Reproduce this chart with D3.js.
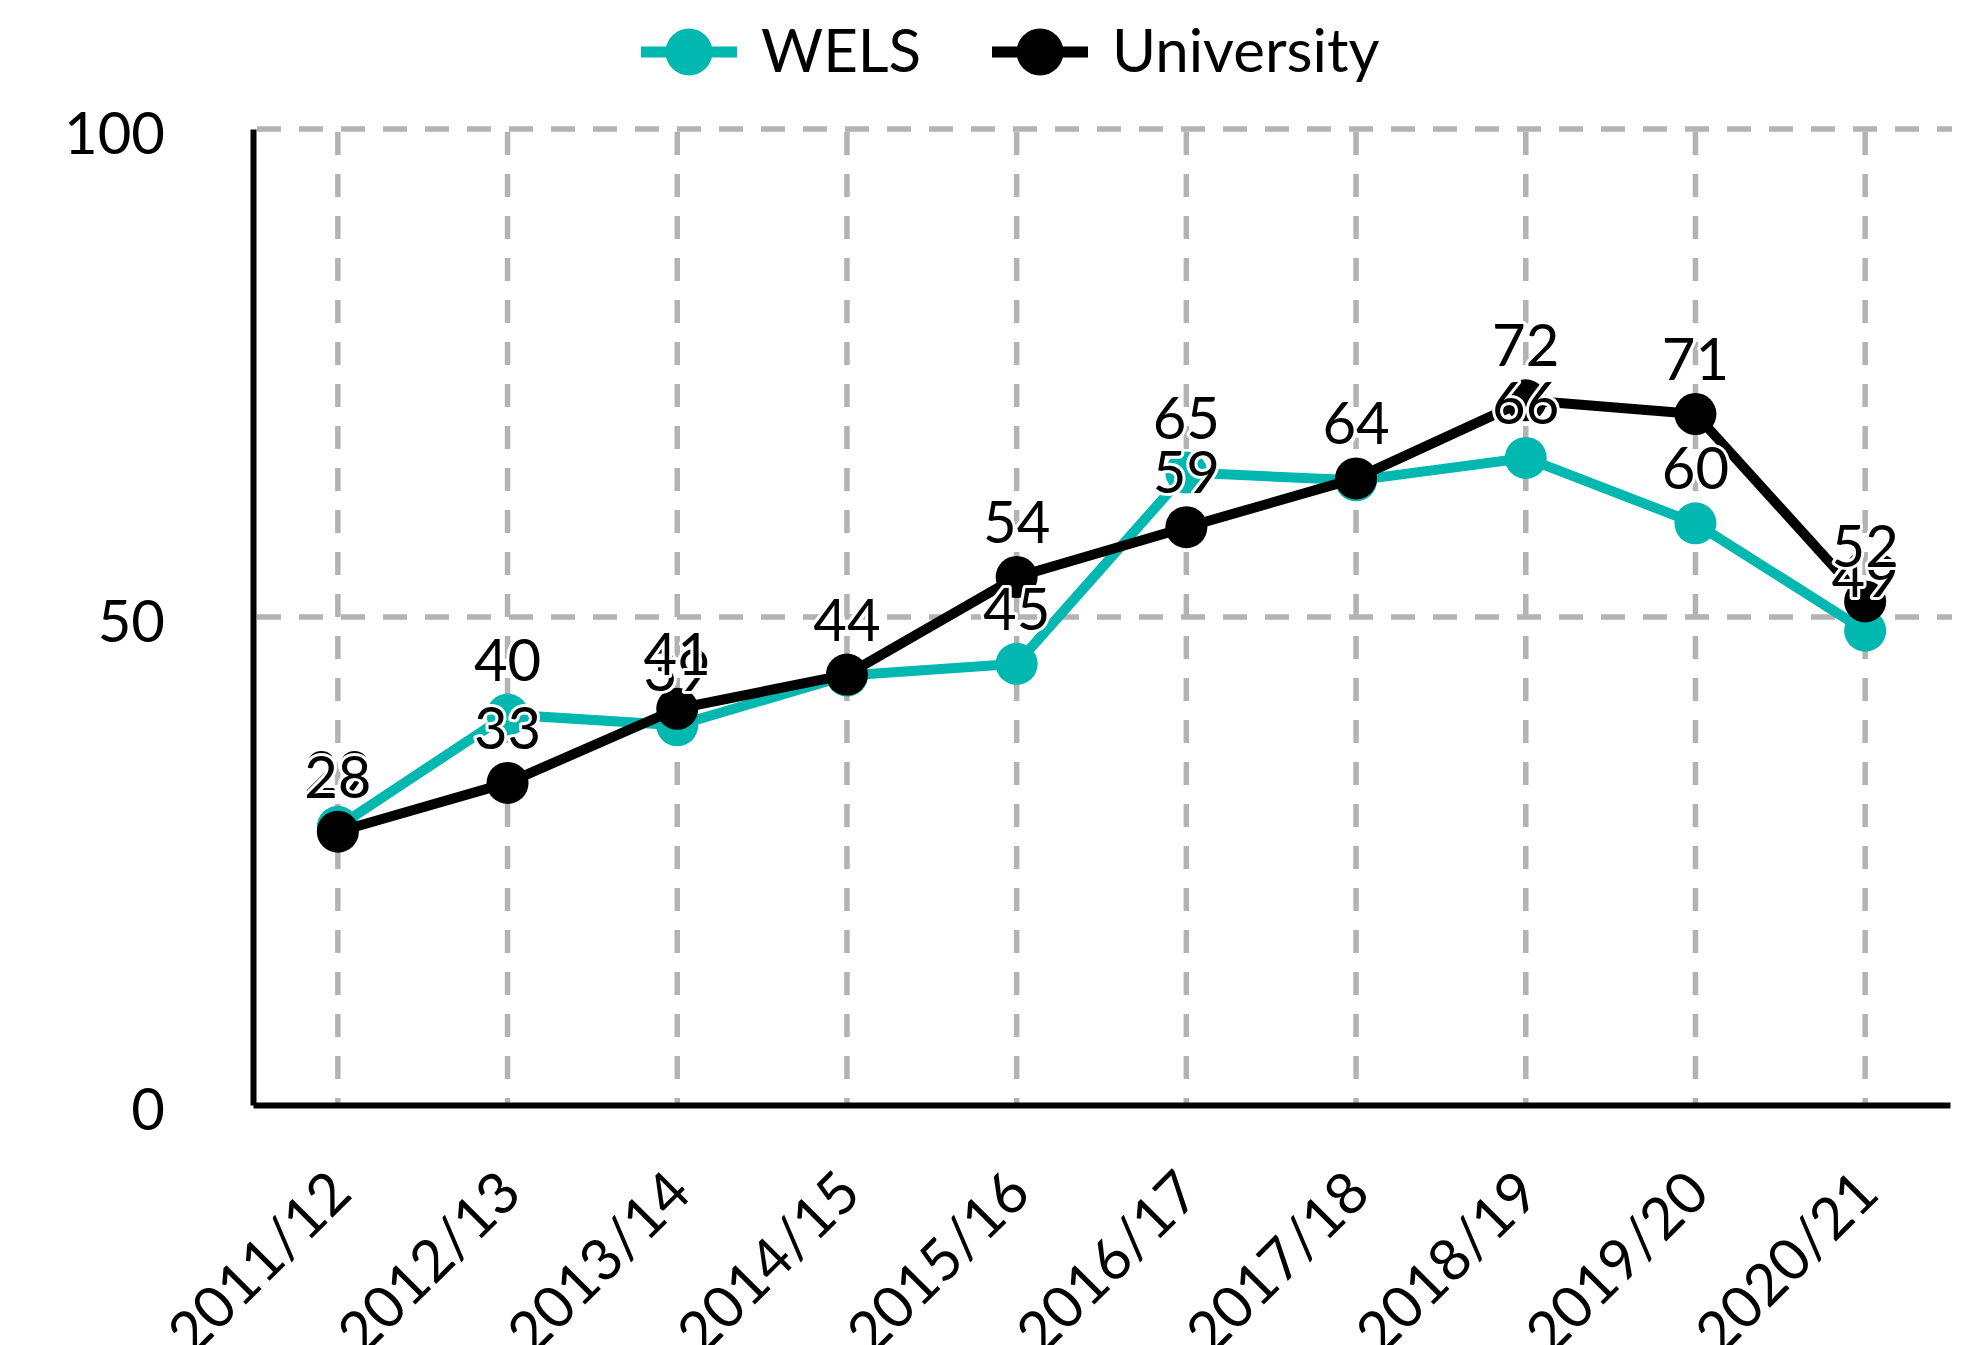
<!DOCTYPE html>
<html>
<head>
  <meta charset="utf-8">
  <script src="https://d3js.org/d3.v7.min.js"></script>
  <style>
    body { margin: 0; background: #fff; }
    text { font-family: Lato, "Open Sans", sans-serif; fill: #000; }
  </style>
</head>
<body>
  <script>
    // Academic years on the x axis
    const years = ["2011/12", "2012/13", "2013/14", "2014/15", "2015/16",
                   "2016/17", "2017/18", "2018/19", "2019/20", "2020/21"];

    // Values
    const wels = [28.5, 40, 38.9, 44, 45.2, 64.8, 64, 66.3, 59.6, 48.6];
    const university = [28, 33, 40.6, 44.1, 54.1, 59.2, 64.2, 72.2, 70.8, 51.6];

    const yTicks = [0, 50, 100];
    const seriesNames = ["WELS", "University"];
    const seriesColors = ["#00b8b0", "#000000"];

    const width = 1981;
    const height = 1345;
    const fontSize = 58;

    const series = [wels, university].map((vals, i) => ({
      name: seriesNames[i],
      color: seriesColors[i],
      values: vals.map((v, j) => ({ year: years[j], value: v }))
    }));

    const svg = d3.select("body")
      .append("svg")
      .attr("width", width)
      .attr("height", height);

    const x = d3.scalePoint()
      .domain(years)
      .range([253, 1950])
      .padding(0.5);

    const y = d3.scaleLinear()
      .domain([0, 100])
      .range([1105, 129]);

    // Dashed gridlines
    const grid = svg.append("g")
      .attr("stroke", "#b3b3b3")
      .attr("stroke-width", 5.5);

    grid.selectAll(".hgrid")
      .data(yTicks.filter(d => d > 0))
      .join("line")
      .attr("class", "hgrid")
      .attr("x1", x.range()[0] + 4)
      .attr("x2", x.range()[1] + 2)
      .attr("y1", d => y(d))
      .attr("y2", d => y(d))
      .attr("stroke-dasharray", "24,18");

    grid.selectAll(".vgrid")
      .data(years)
      .join("line")
      .attr("class", "vgrid")
      .attr("x1", d => x(d))
      .attr("x2", d => x(d))
      .attr("y1", y(100) + 3)
      .attr("y2", y(0))
      .attr("stroke-dasharray", "23,19");

    // Axes
    const yAxis = svg.append("g")
      .attr("transform", `translate(${x.range()[0]},0)`)
      .call(d3.axisLeft(y).tickValues(yTicks).tickSize(0).tickSizeOuter(0).tickPadding(88));
    yAxis.select(".domain").attr("stroke", "#000").attr("stroke-width", 6);
    yAxis.selectAll("text")
      .attr("font-size", fontSize)
      .attr("font-family", "Lato")
      .attr("dy", "0.42em");

    const xAxis = svg.append("g")
      .attr("transform", `translate(0,${y(0)})`)
      .call(d3.axisBottom(x).tickSize(0).tickSizeOuter(0));
    xAxis.select(".domain").attr("stroke", "#000").attr("stroke-width", 6);
    xAxis.selectAll("text")
      .attr("font-size", fontSize)
      .attr("font-family", "Lato")
      .attr("x", 0)
      .attr("y", 0)
      .attr("dy", 0)
      .attr("text-anchor", "end")
      .attr("transform", "translate(16,91) rotate(-45)");

    // Lines and points
    const line = d3.line()
      .x(d => x(d.year))
      .y(d => y(d.value));

    series.forEach(s => {
      svg.append("path")
        .datum(s.values)
        .attr("fill", "none")
        .attr("stroke", s.color)
        .attr("stroke-width", 10)
        .attr("stroke-linejoin", "round")
        .attr("d", line);

      svg.append("g")
        .selectAll("circle")
        .data(s.values)
        .join("circle")
        .attr("cx", d => x(d.year))
        .attr("cy", d => y(d.value))
        .attr("r", 21)
        .attr("fill", s.color);
    });

    // Value labels with white halo
    series.forEach(s => {
      svg.append("g")
        .selectAll("text")
        .data(s.values)
        .join("text")
        .attr("x", d => x(d.year))
        .attr("y", d => y(d.value) - 34)
        .attr("text-anchor", "middle")
        .attr("font-size", fontSize)
        .attr("stroke", "#fff")
        .attr("stroke-width", 6)
        .attr("stroke-linejoin", "round")
        .attr("paint-order", "stroke")
        .text(d => Math.round(d.value));
    });

    // Legend
    const legendX = [689, 1040];
    const legend = svg.append("g")
      .selectAll("g")
      .data(series)
      .join("g")
      .attr("transform", (d, i) => `translate(${legendX[i]},52)`);

    legend.append("line")
      .attr("x1", -48)
      .attr("x2", 48)
      .attr("stroke", d => d.color)
      .attr("stroke-width", 11);

    legend.append("circle")
      .attr("r", 23.5)
      .attr("fill", d => d.color);

    legend.append("text")
      .attr("x", 72)
      .attr("y", 20)
      .attr("font-size", 60)
      .text(d => d.name);
  </script>
</body>
</html>
